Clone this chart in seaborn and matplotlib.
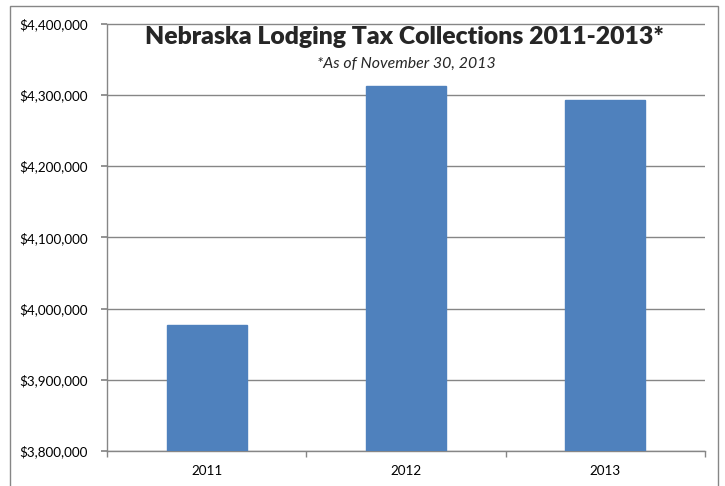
import matplotlib
matplotlib.use("Agg")
import matplotlib.pyplot as plt
import matplotlib.ticker as mticker
from matplotlib.patches import Rectangle
import seaborn as sns
import pandas as pd

years = ["2011", "2012", "2013"]
collections = [3977000, 4312500, 4293000]
yticks = [3800000, 3900000, 4000000, 4100000, 4200000, 4300000, 4400000]
title = "Nebraska Lodging Tax Collections 2011-2013*"
subtitle = "*As of November 30, 2013"

df = pd.DataFrame({"year": years, "value": collections})

sns.set_theme(style="white")
plt.rcParams['font.family'] = ['Lato', 'DejaVu Sans']

W, H = 725, 486
fig = plt.figure(figsize=(W / 100, H / 100), dpi=100)
ax = fig.add_axes([107 / W, 1 - 451 / H, (705 - 107) / W, (451 - 23.5) / H])

sns.barplot(data=df, x="year", y="value", color="#4F81BD", width=0.4,
            saturation=1, ax=ax, edgecolor="#4F81BD", zorder=3)

ax.set_ylim(3800000, 4400000)
ax.set_xlim(-0.5, 2.5)
ax.set_yticks(yticks)
ax.yaxis.set_major_formatter(mticker.FuncFormatter(lambda v, p: f"${v:,.0f}"))
ax.grid(axis="y", color="#868686", linewidth=1, zorder=0)
ax.set_axisbelow(True)
ax.set_xlabel("")
ax.set_ylabel("")

for s in ["top", "right"]:
    ax.spines[s].set_visible(False)
for s in ["left", "bottom"]:
    ax.spines[s].set_color("#868686")
    ax.spines[s].set_linewidth(1)

ax.tick_params(axis="y", which="major", length=4, color="#868686", left=True,
               labelsize=9.7, labelcolor="black", pad=10)
ax.tick_params(axis="x", which="major", length=0, labelsize=9.7, labelcolor="black", pad=10)
ax.set_xticks([-0.5, 0.5, 1.5, 2.5], minor=True)
ax.tick_params(axis="x", which="minor", length=4, color="#868686", bottom=True)

fig.text(404 / W, 1 - 44.5 / H, title, ha="center", va="baseline",
         fontsize=17.8, fontweight="heavy")
fig.text(406 / W, 1 - 68 / H, subtitle, ha="center", va="baseline",
         fontsize=11.4, fontstyle="italic")

fig.patches.append(Rectangle((10 / W, -0.1), (718 - 10) / W, 1.1 - 6 / H,
                             transform=fig.transFigure, fill=False,
                             edgecolor="#868686", linewidth=1))

fig.savefig("out.png", dpi=100)
